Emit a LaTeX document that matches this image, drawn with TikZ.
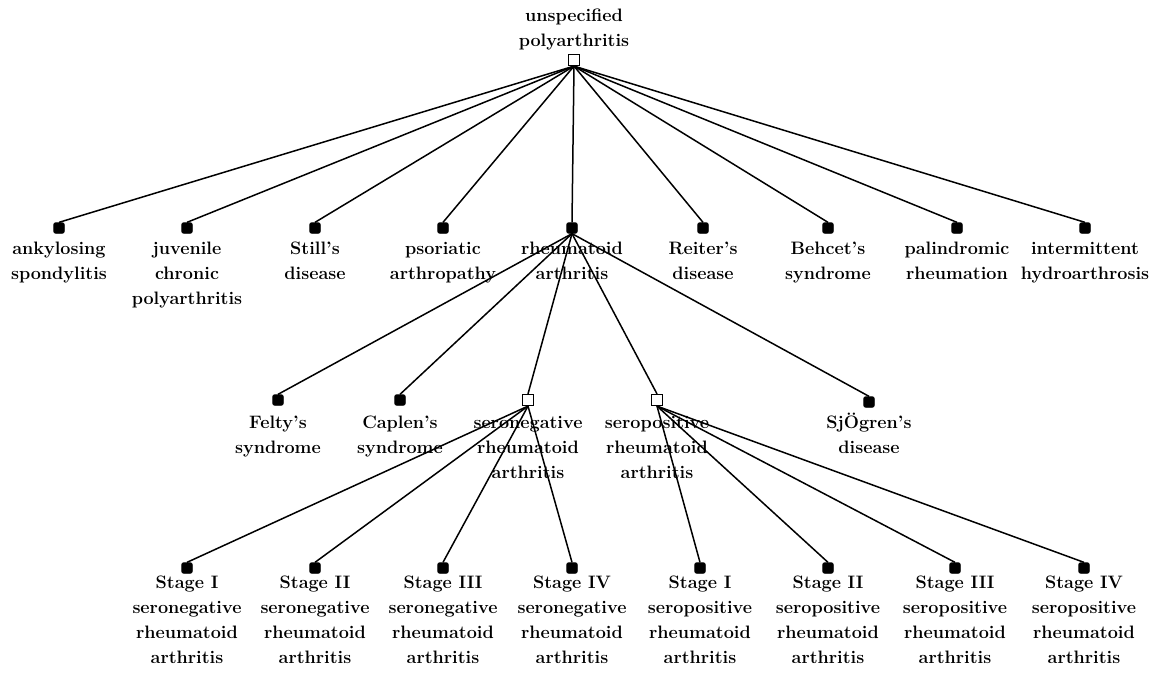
\documentclass[tikz,border=0pt]{standalone}
\begin{document}
\begin{tikzpicture}[x=1pt,y=-1pt,
  leaf/.style={draw,fill=black,minimum size=10.5pt,inner sep=0pt,rounded corners=2pt,line width=0.8pt},
  inner/.style={draw,fill=white,minimum size=11pt,inner sep=0pt,line width=1.2pt},
  lab/.style={font=\fontsize{18}{25}\selectfont\bfseries,align=center,inner sep=0pt,anchor=north},
  edge/.style={line width=1.5pt}]
\useasboundingbox (0,0) rectangle (1152,674);
% labels
\node[lab] (lroot) at (574,4) {\strut unspecified\\polyarthritis};
\foreach \n/\x/\t in {a1/59/ankylosing\\spondylitis, a2/187/juvenile\\chronic\\polyarthritis, a3/315/Still's\\disease, a4/443/psoriatic\\arthropathy, a5/572/rheumatoid\\arthritis, a6/703/Reiter's\\disease, a7/828/Behcet's\\syndrome, a8/957/palindromic\\rheumation, a9/1085/intermittent\\hydroarthrosis}
  \node[lab] (l\n) at (\x,237) {\strut \t};
\foreach \n/\x/\t in {b1/278/Felty's\\syndrome, b2/400/Caplen's\\syndrome, b3/528/seronegative\\rheumatoid\\arthritis, b4/657/seropositive\\rheumatoid\\arthritis, b5/869/Sj\"Ogren's\\disease}
  \node[lab] (l\n) at (\x,411) {\strut \t};
\foreach \n/\x/\t in {c1/187/Stage I\\seronegative, c2/315/Stage II\\seronegative, c3/443/Stage III\\seronegative, c4/572/Stage IV\\seronegative, c5/700/Stage I\\seropositive, c6/828/Stage II\\seropositive, c7/955/Stage III\\seropositive, c8/1084/Stage IV\\seropositive}
  \node[lab] (l\n) at (\x,571) {\strut \t\\rheumatoid\\arthritis};
% squares
\node[inner] (root) at (574,60) {};
\foreach \n/\x in {a1/59,a2/187,a3/315,a4/443,a5/572,a6/703,a7/828,a8/957,a9/1085}
  \node[leaf] (\n) at (\x,228) {};
\node[leaf] (b1) at (278,400) {};
\node[leaf] (b2) at (400,400) {};
\node[inner] (b3) at (528,400) {};
\node[inner] (b4) at (657,400) {};
\node[leaf] (b5) at (869,402) {};
\foreach \n/\x in {c1/187,c2/315,c3/443,c4/572,c5/700,c6/828,c7/955,c8/1084}
  \node[leaf] (\n) at (\x,568) {};
% edges
\foreach \n in {a1,a2,a3,a4,a5,a6,a7,a8,a9}
  \draw[edge] (root.south) -- (\n.north);
\foreach \n in {b1,b2,b3,b4,b5}
  \draw[edge] (a5.south) -- (\n.north);
\foreach \n in {c1,c2,c3,c4}
  \draw[edge] (b3.south) -- (\n.north);
\foreach \n in {c5,c6,c7,c8}
  \draw[edge] (b4.south) -- (\n.north);
\end{tikzpicture}
\end{document}
